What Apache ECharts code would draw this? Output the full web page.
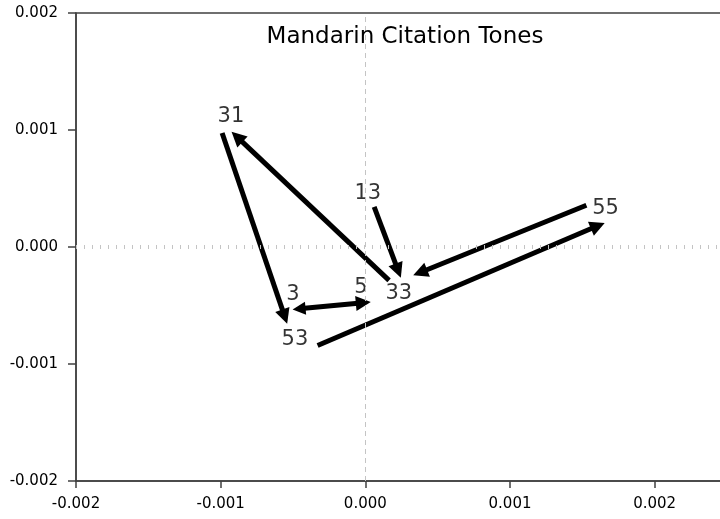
<!DOCTYPE html>
<html>
<head>
<meta charset="utf-8">
<script src="https://cdn.jsdelivr.net/npm/echarts@6/dist/echarts.min.js"></script>
<style>
  html, body { margin: 0; padding: 0; background: #fff; overflow: hidden; }
  #chart { width: 727px; height: 519px; }
</style>
</head>
<body>
<div id="chart"></div>
<script>
// tone contours: start point -> end point (arrow at end)
const arrowNames = ['31-53', '33-31', '13-33', '55-33', '3-5', '53-55']
const arrowStart = [
  [-0.00099, 0.000974],
  [0.000164, -0.000285],
  [0.000061, 0.000343],
  [0.001528, 0.000357],
  [-0.000458, -0.000528],
  [-0.00033, -0.000842]
]
const arrowEnd = [
  [-0.000557, -0.000595],
  [-0.000887, 0.000941],
  [0.000227, -0.000202],
  [0.000379, -0.000218],
  [-0.000014, -0.000477],
  [0.001607, 0.000181]
]
const doubleHeaded = [false, false, false, false, true, false]

// point labels
const labelNames = ['31', '13', '55', '3', '5', '33', '53']
const labelPoints = [
  [-0.000929, 0.001111],
  [0.000017, 0.00046],
  [0.001661, 0.000331],
  [-0.000501, -0.000405],
  [-0.000031, -0.000345],
  [0.000231, -0.000397],
  [-0.000487, -0.00079]
]

const chart = echarts.init(document.getElementById('chart'))

const fmt = (v) => (Math.abs(v) < 1e-9 ? '0.000' : v.toFixed(3))
const axisColor = '#404040'
const font = '"DejaVu Sans", Arial, sans-serif'

const arrowData = arrowNames.map((name, i) => ({
  name: name,
  coords: [arrowStart[i], arrowEnd[i]],
  symbol: doubleHeaded[i] ? ['triangle', 'triangle'] : ['none', 'triangle']
}))

const option = {
  animation: false,
  backgroundColor: '#fff',
  title: {
    text: 'Mandarin Citation Tones',
    left: 400,
    top: 21,
    textAlign: 'center',
    textStyle: { fontFamily: font, fontSize: 23, fontWeight: 'normal', color: '#000' }
  },
  grid: {
    left: 76,
    top: 13,
    bottom: 38,
    right: 0,
    show: true,
    borderColor: axisColor,
    borderWidth: 1.5
  },
  xAxis: {
    type: 'value',
    min: -0.002,
    max: 0.0025,
    interval: 0.001,
    axisLine: { onZero: false, lineStyle: { color: axisColor, width: 1.5 } },
    axisTick: { length: 7, lineStyle: { color: axisColor, width: 1.5 } },
    axisLabel: { formatter: fmt, color: '#000', fontSize: 15, fontFamily: font, margin: 16, showMaxLabel: false },
    splitLine: { show: false }
  },
  yAxis: {
    type: 'value',
    min: -0.002,
    max: 0.002,
    interval: 0.001,
    axisLine: { onZero: false, lineStyle: { color: axisColor, width: 1.5 } },
    axisTick: { length: 8, lineStyle: { color: axisColor, width: 1.5 } },
    axisLabel: { formatter: fmt, color: '#000', fontSize: 15, fontFamily: font, margin: 18 },
    splitLine: { show: false }
  },
  series: [
    {
      type: 'scatter',
      data: labelPoints.map((p, i) => [p[0], p[1], labelNames[i]]),
      symbolSize: 0,
      label: {
        show: true,
        position: 'inside',
        formatter: (p) => p.data[2],
        color: '#000',
        fontSize: 21,
        fontFamily: font
      },
      markLine: {
        silent: true,
        symbol: 'none',
        label: { show: false },
        data: [
          { xAxis: 0, lineStyle: { color: '#c4c4c4', width: 1, type: [5, 4] } },
          { yAxis: 0, lineStyle: { color: '#c4c4c4', width: 4, type: [1, 7] } }
        ]
      }
    },
    {
      type: 'lines',
      coordinateSystem: 'cartesian2d',
      data: arrowData,
      symbolSize: [13, 15],
      lineStyle: { color: '#000', width: 5, opacity: 1 },
      z: 3
    }
  ]
}

chart.setOption(option)
</script>
</body>
</html>
